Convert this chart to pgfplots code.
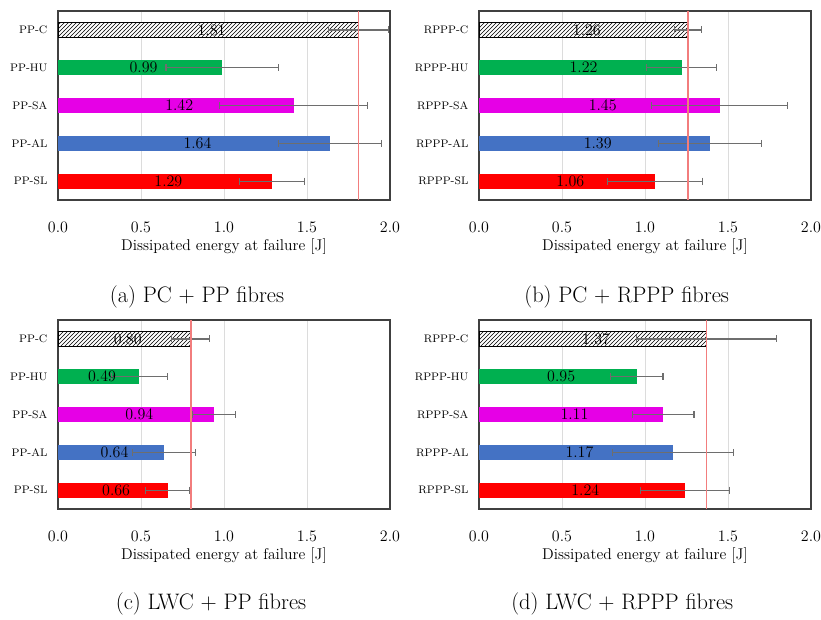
\documentclass[border=0pt]{standalone}
\usepackage{pgfplots}
\pgfplotsset{compat=1.18}
\usetikzlibrary{patterns}
\definecolor{cgreen}{RGB}{0,176,80}
\definecolor{cmag}{RGB}{230,0,230}
\definecolor{cblue}{RGB}{68,114,196}
\definecolor{cred}{RGB}{255,0,0}
\definecolor{refline}{RGB}{242,125,125}
\definecolor{errc}{RGB}{110,110,110}
\definecolor{gridc}{RGB}{220,220,220}
\pgfplotsset{
  panel/.style={
    scale only axis, width=249pt, height=141.75pt, anchor=south west,
    xmin=0, xmax=2, ymin=-0.5, ymax=4.5,
    xtick={0,0.5,1,1.5,2}, ytick={0,1,2,3,4},
    major tick length=0pt,
    xticklabel style={font=\fontsize{11.8}{14}\selectfont, anchor=center, yshift=-20.5pt,
      /pgf/number format/fixed, /pgf/number format/fixed zerofill, /pgf/number format/precision=1},
    yticklabel style={font=\fontsize{8.2}{9}\selectfont, anchor=east, xshift=-4.5pt},
    xmajorgrids, major grid style={gridc, line width=0.7pt},
    axis line style={black!75, line width=0.9pt},
    xlabel={Dissipated energy at failure [J]},
    xlabel style={font=\fontsize{11.7}{14}\selectfont, at={(axis description cs:0.5,-0.245)}, anchor=center},
    bar width=11.25pt,
  },
  mybar/.style={xbar, bar shift=0pt, draw=none, fill=#1,
    nodes near coords, point meta=x,
    nodes near coords style={font=\fontsize{11.8}{14}\selectfont, text=black, anchor=center,
      /pgf/number format/fixed, /pgf/number format/fixed zerofill, /pgf/number format/precision=2},
    visualization depends on={x \as \rawx},
    every node near coord/.append style={shift={(axis direction cs:-\rawx/2+0.02,0)}},
    error bars/x dir=both, error bars/x explicit,
    error bars/error mark=|,
    error bars/error bar style={draw=errc, line width=0.9pt},
    error bars/error mark options={draw=errc, mark size=2.6pt, line width=0.9pt},
  },
  hatchbar/.style={mybar=white, draw=black, line width=0.8pt,
    postaction={pattern=north east lines, pattern color=black}},
  refl/.style={refline, line width=1.1pt, forget plot},
}
\begin{document}
\begin{tikzpicture}
\useasboundingbox (0,0) rectangle (615.75pt,464.25pt);
% (a)
\begin{axis}[panel, at={(43.5pt,314.25pt)}, yticklabels={PP-SL,PP-AL,PP-SA,PP-HU,PP-C}]
\addplot[hatchbar] coordinates {(1.81,4) +- (0.18,0)};
\addplot[mybar=cgreen] coordinates {(0.99,3) +- (0.34,0)};
\addplot[mybar=cmag] coordinates {(1.42,2) +- (0.445,0)};
\addplot[mybar=cblue] coordinates {(1.64,1) +- (0.31,0)};
\addplot[mybar=cred] coordinates {(1.29,0) +- (0.195,0)};
\addplot[refl] coordinates {(1.81,-0.5) (1.81,4.5)};
\end{axis}
% (b)
\begin{axis}[panel, at={(359.25pt,314.25pt)}, yticklabels={RPPP-SL,RPPP-AL,RPPP-SA,RPPP-HU,RPPP-C}]
\addplot[hatchbar] coordinates {(1.26,4) +- (0.08,0)};
\addplot[mybar=cgreen] coordinates {(1.22,3) +- (0.21,0)};
\addplot[mybar=cmag] coordinates {(1.45,2) +- (0.41,0)};
\addplot[mybar=cblue] coordinates {(1.39,1) +- (0.31,0)};
\addplot[mybar=cred] coordinates {(1.06,0) +- (0.284,0)};
\addplot[refl] coordinates {(1.26,-0.5) (1.26,4.5)};
\end{axis}
% (c)
\begin{axis}[panel, at={(43.5pt,82.5pt)}, yticklabels={PP-SL,PP-AL,PP-SA,PP-HU,PP-C}]
\addplot[hatchbar] coordinates {(0.80,4) +- (0.114,0)};
\addplot[mybar=cgreen] coordinates {(0.49,3) +- (0.17,0)};
\addplot[mybar=cmag] coordinates {(0.94,2) +- (0.128,0)};
\addplot[mybar=cblue] coordinates {(0.64,1) +- (0.19,0)};
\addplot[mybar=cred] coordinates {(0.66,0) +- (0.133,0)};
\addplot[refl] coordinates {(0.80,-0.5) (0.80,4.5)};
\end{axis}
% (d)
\begin{axis}[panel, at={(359.25pt,82.5pt)}, yticklabels={RPPP-SL,RPPP-AL,RPPP-SA,RPPP-HU,RPPP-C}]
\addplot[hatchbar] coordinates {(1.37,4) +- (0.42,0)};
\addplot[mybar=cgreen] coordinates {(0.95,3) +- (0.158,0)};
\addplot[mybar=cmag] coordinates {(1.11,2) +- (0.185,0)};
\addplot[mybar=cblue] coordinates {(1.17,1) +- (0.364,0)};
\addplot[mybar=cred] coordinates {(1.24,0) +- (0.267,0)};
\addplot[refl] coordinates {(1.37,-0.5) (1.37,4.5)};
\end{axis}
\node[font=\fontsize{16.8}{20}\selectfont] at (147.75pt,241.5pt) {(a) PC + PP fibres};
\node[font=\fontsize{16.8}{20}\selectfont] at (470pt,241.5pt) {(b) PC + RPPP fibres};
\node[font=\fontsize{16.8}{20}\selectfont] at (158.25pt,11.5pt) {(c) LWC + PP fibres};
\node[font=\fontsize{16.8}{20}\selectfont] at (466.7pt,11.5pt) {(d) LWC + RPPP fibres};
\end{tikzpicture}
\end{document}
